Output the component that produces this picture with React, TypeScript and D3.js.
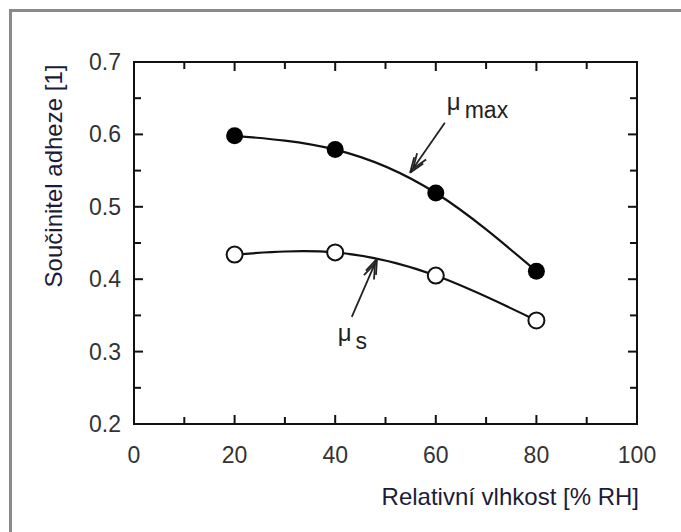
import React, { useEffect, useRef } from 'react';
import * as d3 from 'd3';

// relative humidity [% RH]
const humidity = [20, 40, 60, 80];
// adhesion coefficient, max and static
const muMax = [0.598, 0.579, 0.519, 0.411];
const muS = [0.434, 0.437, 0.405, 0.343];

const xTicks = [0, 20, 40, 60, 80, 100];
const yTicks = [0.2, 0.3, 0.4, 0.5, 0.6, 0.7];

function App() {
  const ref = useRef<SVGSVGElement>(null);

  useEffect(() => {
    const svg = d3.select(ref.current);
    svg.selectAll('*').remove();

    const W = 681, H = 532;
    const left = 134, right = 637, top = 62, bottom = 424;
    const font = 'Arial, "Liberation Sans", sans-serif';

    const x = d3.scaleLinear().domain([0, 100]).range([left, right]);
    const y = d3.scaleLinear().domain([0.2, 0.7]).range([bottom, top]);

    svg.append('rect').attr('width', W).attr('height', H).attr('fill', '#fff');

    // outer grey frame (only top & left visible)
    svg.append('path')
      .attr('d', `M10.5,${H} V10.5 H${W}`)
      .attr('fill', 'none')
      .attr('stroke', '#8a8a8a')
      .attr('stroke-width', 3);

    // ticks inward on all four sides
    const g = svg.append('g').attr('stroke', '#111').attr('stroke-width', 2);
    d3.range(0, 101, 10).forEach((v) => {
      const len = v % 20 === 0 ? 9 : 7;
      g.append('line').attr('x1', x(v)).attr('x2', x(v)).attr('y1', bottom).attr('y2', bottom - len);
      g.append('line').attr('x1', x(v)).attr('x2', x(v)).attr('y1', top).attr('y2', top + len);
    });
    d3.range(0.2, 0.7001, 0.05).forEach((v, i) => {
      const len = i % 2 === 0 ? 9 : 7;
      g.append('line').attr('y1', y(v)).attr('y2', y(v)).attr('x1', left).attr('x2', left + len);
      g.append('line').attr('y1', y(v)).attr('y2', y(v)).attr('x1', right).attr('x2', right - len);
    });
    svg.append('rect')
      .attr('x', left).attr('y', top)
      .attr('width', right - left).attr('height', bottom - top)
      .attr('fill', 'none').attr('stroke', '#111').attr('stroke-width', 2);

    // tick labels
    svg.append('g').selectAll('text').data(xTicks).join('text')
      .attr('x', (d) => x(d)).attr('y', 463)
      .attr('text-anchor', 'middle')
      .attr('font-family', font).attr('font-size', 23).attr('fill', '#333')
      .text((d) => d);
    svg.append('g').selectAll('text').data(yTicks).join('text')
      .attr('x', 121).attr('y', (d) => y(d) + 8)
      .attr('text-anchor', 'end')
      .attr('font-family', font).attr('font-size', 23).attr('fill', '#333')
      .text((d) => d.toFixed(1));

    // axis titles
    svg.append('text')
      .attr('x', right + 2).attr('y', 505)
      .attr('text-anchor', 'end')
      .attr('font-family', font).attr('font-size', 24).attr('fill', '#1c1c3a')
      .text('Relativní vlhkost [% RH]');
    svg.append('text')
      .attr('transform', 'translate(62,176) rotate(-90)')
      .attr('text-anchor', 'middle')
      .attr('font-family', font).attr('font-size', 24).attr('fill', '#1c1c3a')
      .text('Součinitel adheze [1]');

    // fitted curves
    const line = d3.line<number>()
      .x((_, i) => x(humidity[i]))
      .y((d) => y(d))
      .curve(d3.curveNatural);
    [muMax, muS].forEach((s) => {
      svg.append('path').attr('d', line(s))
        .attr('fill', 'none').attr('stroke', '#111').attr('stroke-width', 2.2);
    });

    svg.append('g').selectAll('circle').data(muMax).join('circle')
      .attr('cx', (_, i) => x(humidity[i])).attr('cy', (d) => y(d))
      .attr('r', 8.5).attr('fill', '#000');
    svg.append('g').selectAll('circle').data(muS).join('circle')
      .attr('cx', (_, i) => x(humidity[i])).attr('cy', (d) => y(d))
      .attr('r', 8).attr('fill', '#fff').attr('stroke', '#111').attr('stroke-width', 2);

    // annotation arrows (double barbed)
    const arrow = (x0: number, y0: number, x1: number, y1: number) => {
      const ax = x(x0), ay = y(y0), bx = x(x1), by = y(y1);
      const ang = Math.atan2(by - ay, bx - ax);
      const a = svg.append('g').attr('stroke', '#222').attr('stroke-width', 1.8).attr('fill', 'none');
      a.append('line').attr('x1', ax).attr('y1', ay).attr('x2', bx).attr('y2', by);
      [0, 5].forEach((off) => {
        const hx = bx - off * Math.cos(ang), hy = by - off * Math.sin(ang);
        [-0.35, 0.35].forEach((da) => {
          a.append('line')
            .attr('x1', hx).attr('y1', hy)
            .attr('x2', hx - 16 * Math.cos(ang + da))
            .attr('y2', hy - 16 * Math.sin(ang + da));
        });
      });
    };
    arrow(61.8, 0.616, 54.9, 0.547);
    arrow(43.3, 0.348, 48.3, 0.428);

    // labels
    const lab = (xv: number, yv: number, sub: string) => {
      const t = svg.append('text')
        .attr('x', x(xv)).attr('y', y(yv))
        .attr('font-family', font).attr('font-size', 24).attr('fill', '#222');
      t.append('tspan').text('μ');
      t.append('tspan').attr('dx', 4).attr('dy', 8).attr('font-size', 23).text(sub);
    };
    lab(62.2, 0.634, 'max');
    lab(40.5, 0.315, 's');
  }, []);

  return (
    <svg ref={ref} width={681} height={532}
      style={{ position: 'absolute', left: 0, top: 0, display: 'block' }} />
  );
}

export default App;
